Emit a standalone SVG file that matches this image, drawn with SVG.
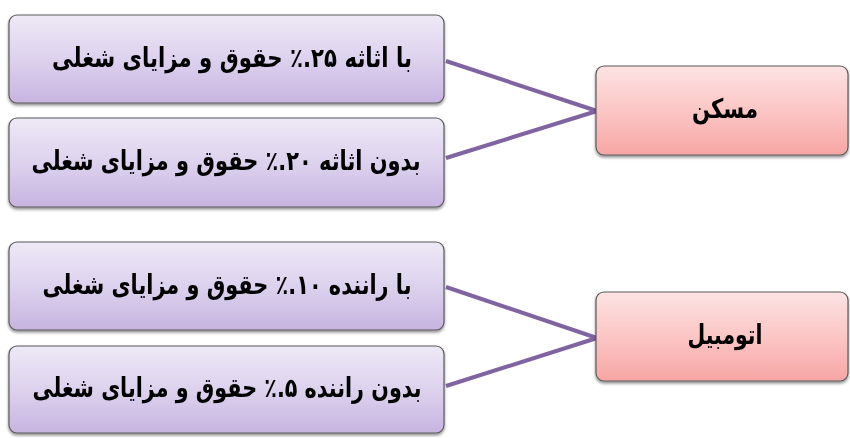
<svg xmlns="http://www.w3.org/2000/svg" width="850" height="438" viewBox="0 0 850 438">
<style>
.box{stroke:#5a5a5a;stroke-width:1.2}
.lbl{font-family:"DejaVu Sans",sans-serif;font-weight:bold;font-size:27px;fill:#000;text-anchor:middle;direction:rtl;unicode-bidi:embed}
.conn{stroke:#8064a2;stroke-width:4;fill:none;stroke-linecap:butt}
</style>
<defs>
<linearGradient id="gP" x1="0" y1="0" x2="0" y2="1">
<stop offset="0" stop-color="#eee9f6"/>
<stop offset="0.5" stop-color="#ddd2ee"/>
<stop offset="1" stop-color="#c7b4e0"/>
</linearGradient>
<linearGradient id="gR" x1="0" y1="0" x2="0" y2="1">
<stop offset="0" stop-color="#fde3e3"/>
<stop offset="0.5" stop-color="#fbc6c5"/>
<stop offset="1" stop-color="#f7a6a4"/>
</linearGradient>
<filter id="sh" x="-5%" y="-10%" width="110%" height="130%">
<feGaussianBlur in="SourceAlpha" stdDeviation="1.5"/>
<feOffset dx="0" dy="2" result="b"/>
<feComponentTransfer><feFuncA type="linear" slope="0.45"/></feComponentTransfer>
<feMerge><feMergeNode/><feMergeNode in="SourceGraphic"/></feMerge>
</filter>
</defs>
<rect width="850" height="438" fill="#fff"/>
<g id="connectors">
<line class="conn" x1="446" y1="61" x2="597" y2="111"/>
<line class="conn" x1="446" y1="158" x2="597" y2="111"/>
<line class="conn" x1="446" y1="287" x2="597" y2="338"/>
<line class="conn" x1="446" y1="386" x2="597" y2="338"/>
</g>
<g id="n1" filter="url(#sh)">
<rect class="box" x="9" y="15" width="435" height="88" rx="8" fill="url(#gP)"/>
<text class="lbl" x="232" y="67" textLength="360" lengthAdjust="spacingAndGlyphs">با اثاثه ۲۵.٪ حقوق و مزایای شغلی</text>
</g>
<g id="n2" filter="url(#sh)">
<rect class="box" x="9" y="118" width="435" height="89" rx="8" fill="url(#gP)"/>
<text class="lbl" x="226" y="170" textLength="389" lengthAdjust="spacingAndGlyphs">بدون اثاثه ۲۰.٪ حقوق و مزایای شغلی</text>
</g>
<g id="n3" filter="url(#sh)">
<rect class="box" x="9" y="242" width="435" height="88" rx="8" fill="url(#gP)"/>
<text class="lbl" x="227" y="294" textLength="369" lengthAdjust="spacingAndGlyphs">با راننده ۱۰.٪ حقوق و مزایای شغلی</text>
</g>
<g id="n4" filter="url(#sh)">
<rect class="box" x="9" y="346" width="435" height="87" rx="8" fill="url(#gP)"/>
<text class="lbl" x="227" y="397" textLength="389" lengthAdjust="spacingAndGlyphs">بدون راننده ۵.٪ حقوق و مزایای شغلی</text>
</g>
<g id="n5" filter="url(#sh)">
<rect class="box" x="596" y="66" width="252" height="89" rx="8" fill="url(#gR)"/>
<text class="lbl" x="725" y="118" textLength="66" lengthAdjust="spacingAndGlyphs">مسکن</text>
</g>
<g id="n6" filter="url(#sh)">
<rect class="box" x="596" y="292" width="252" height="89" rx="8" fill="url(#gR)"/>
<text class="lbl" x="725" y="344" textLength="75" lengthAdjust="spacingAndGlyphs">اتومبیل</text>
</g>
</svg>
